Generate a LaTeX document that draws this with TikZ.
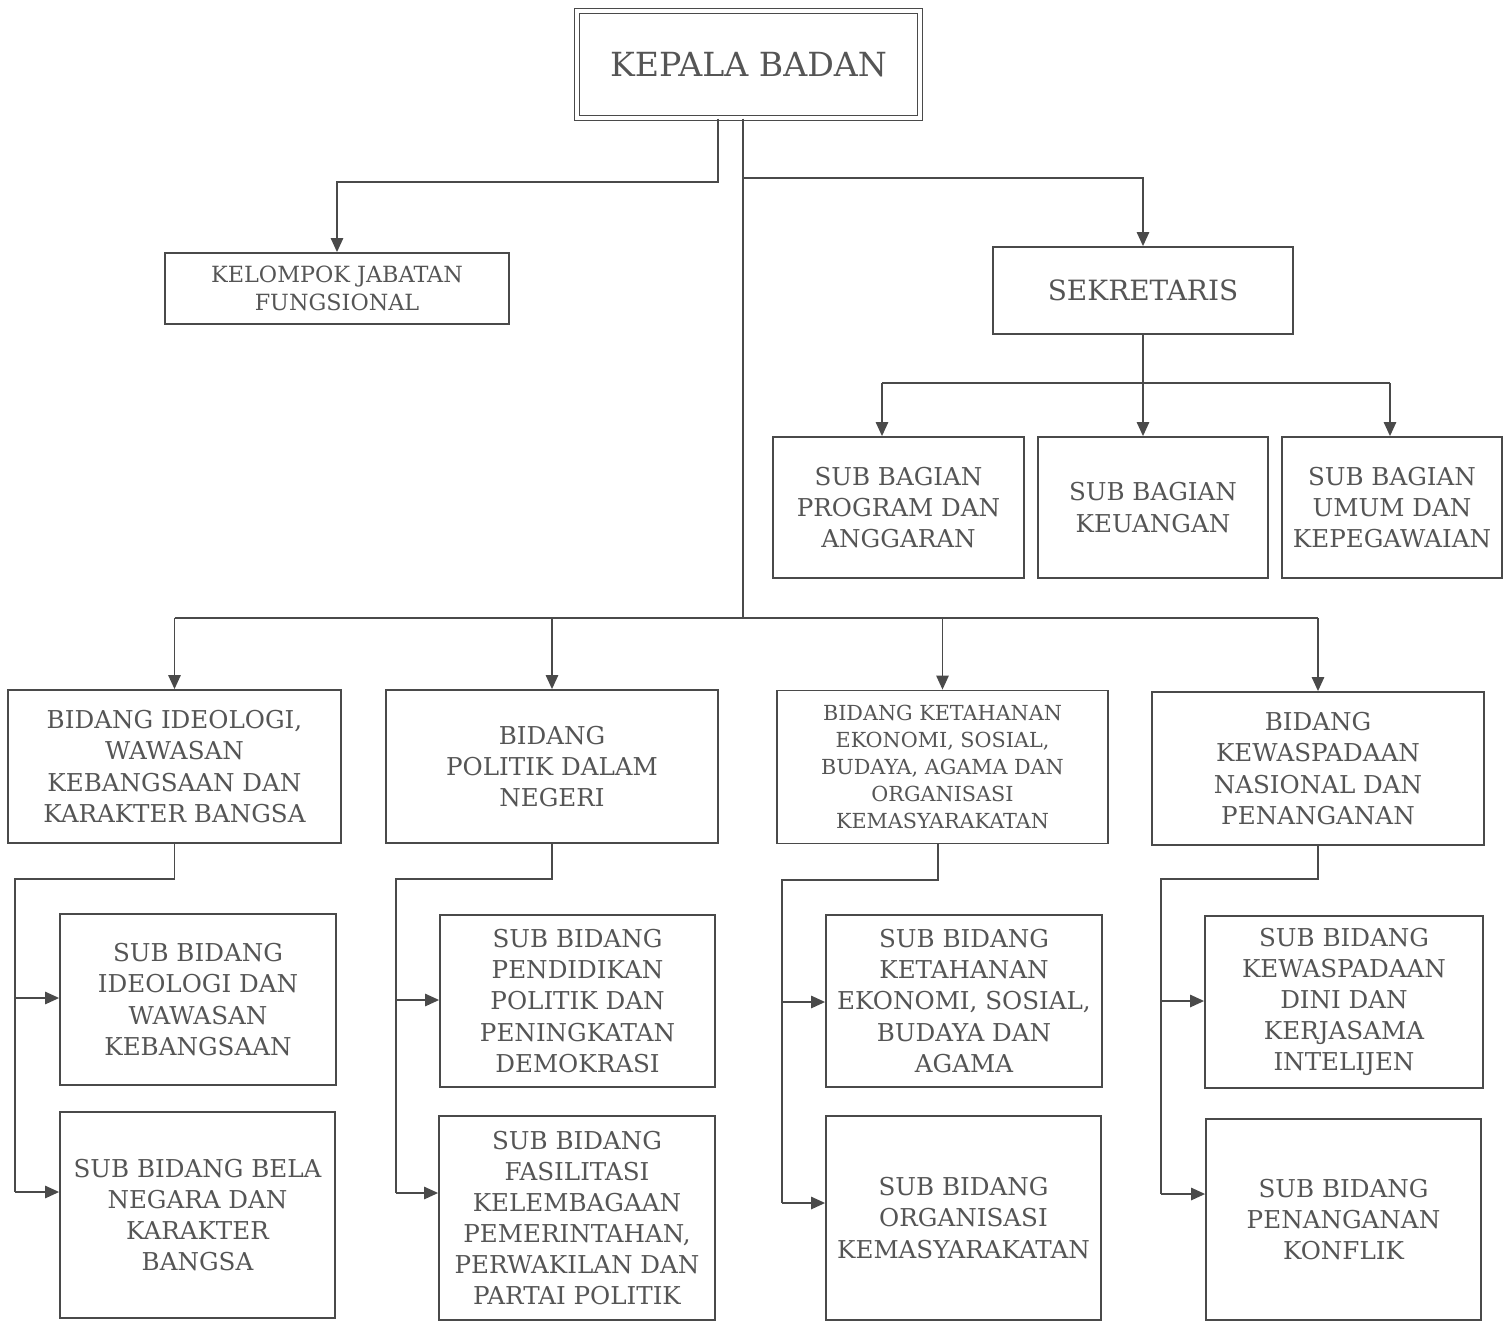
\documentclass[tikz,border=0pt]{standalone}
\usepackage{fontspec}
\setmainfont{DejaVu Serif}
\usetikzlibrary{arrows.meta}
\definecolor{ink}{HTML}{4A4A4A}
\definecolor{txt}{HTML}{555555}
\tikzset{
  box/.style={draw=ink, line width=1pt, inner sep=0pt, align=center, text=txt,
    font=\fontsize{14}{17.7}\selectfont},
  smallbox/.style={box, font=\fontsize{12.7}{15.9}\selectfont},
  tinybox/.style={box, font=\fontsize{11.8}{15.3}\selectfont},
  conn/.style={draw=ink, line width=1.1pt},
  arr/.style={conn, -{Triangle[length=8pt,width=7pt]}}
}
\begin{document}
\begin{tikzpicture}[x=0.02cm, y=-0.02cm]
\useasboundingbox (0,0) rectangle (1512,1322);
% top
\node[box, double=white, double distance=2pt, line width=0.8pt,
  minimum width=6.86cm, minimum height=2.14cm,
  font=\fontsize{18.9}{22}\selectfont] (KB) at (748.5,64.5) {KEPALA BADAN};
\node[smallbox, minimum width=6.88cm, minimum height=1.42cm] (KJF) at (337,288.5) {KELOMPOK JABATAN\\FUNGSIONAL};
\node[box, minimum width=6.0cm, minimum height=1.74cm, font=\fontsize{15.9}{19}\selectfont] (SEK) at (1143,290.5) {SEKRETARIS};
% sub bagian
\node[box, minimum width=5.02cm, minimum height=2.82cm] (SB1) at (898.5,507.5) {SUB BAGIAN\\PROGRAM DAN\\ANGGARAN};
\node[box, minimum width=4.6cm, minimum height=2.82cm] (SB2) at (1153,507.5) {SUB BAGIAN\\KEUANGAN};
\node[box, minimum width=4.4cm, minimum height=2.82cm] (SB3) at (1392,507.5) {SUB BAGIAN\\UMUM DAN\\KEPEGAWAIAN};
% bidang
\node[box, minimum width=6.66cm, minimum height=3.06cm] (B1) at (174.5,766.5) {BIDANG IDEOLOGI,\\WAWASAN\\KEBANGSAAN DAN\\KARAKTER BANGSA};
\node[box, minimum width=6.64cm, minimum height=3.06cm] (B2) at (552,766.5) {BIDANG\\POLITIK DALAM\\NEGERI};
\node[tinybox, minimum width=6.62cm, minimum height=3.06cm] (B3) at (942.5,767) {BIDANG KETAHANAN\\EKONOMI, SOSIAL,\\BUDAYA, AGAMA DAN\\ORGANISASI\\KEMASYARAKATAN};
\node[box, minimum width=6.64cm, minimum height=3.06cm] (B4) at (1318,768.5) {BIDANG\\KEWASPADAAN\\NASIONAL DAN\\PENANGANAN};
% sub bidang
\node[box, minimum width=5.52cm, minimum height=3.42cm] (S1A) at (198,999.5) {SUB BIDANG\\IDEOLOGI DAN\\WAWASAN\\KEBANGSAAN};
\node[box, minimum width=5.5cm, minimum height=4.12cm] (S1B) at (197.5,1215) {SUB BIDANG BELA\\NEGARA DAN\\KARAKTER\\BANGSA};
\node[box, minimum width=5.5cm, minimum height=3.44cm] (S2A) at (577.5,1001) {SUB BIDANG\\PENDIDIKAN\\POLITIK DAN\\PENINGKATAN\\DEMOKRASI};
\node[box, minimum width=5.52cm, minimum height=4.08cm] (S2B) at (577,1218) {SUB BIDANG\\FASILITASI\\KELEMBAGAAN\\PEMERINTAHAN,\\PERWAKILAN DAN\\PARTAI POLITIK};
\node[box, minimum width=5.52cm, minimum height=3.44cm] (S3A) at (964,1001) {SUB BIDANG\\KETAHANAN\\EKONOMI, SOSIAL,\\BUDAYA DAN\\AGAMA};
\node[box, minimum width=5.5cm, minimum height=4.08cm] (S3B) at (963.5,1218) {SUB BIDANG\\ORGANISASI\\KEMASYARAKATAN};
\node[box, minimum width=5.56cm, minimum height=3.44cm] (S4A) at (1344,1002) {SUB BIDANG\\KEWASPADAAN\\DINI DAN\\KERJASAMA\\INTELIJEN};
\node[box, minimum width=5.5cm, minimum height=4.02cm] (S4B) at (1343.5,1219.5) {SUB BIDANG\\PENANGANAN\\KONFLIK};
% top connectors
\coordinate (k1) at (718,0 |- KB.south);
\coordinate (k2) at (743,0 |- KB.south);
\draw[arr] (k1) -- (k1 |- 0,182) -| (KJF.north);
\draw[conn] (k2) -- (k2 |- 0,618);
\draw[arr] (k2 |- 0,178) -| (SEK.north);
% sekretaris
\draw[arr] (SEK.south) -- (SEK.south |- SB2.north);
\draw[conn] (882,383) -- (1390,383);
\draw[arr] (882,383) -- (882,0 |- SB1.north);
\draw[arr] (1390,383) -- (1390,0 |- SB3.north);
% bidang
\draw[conn] (B1.north |- 0,618) -- (B4.north |- 0,618);
\foreach \b in {B1,B2,B3,B4} \draw[arr] (\b.north |- 0,618) -- (\b.north);
% column 1
\draw[conn] (B1.south) |- (15,879) -- (15,1192);
\draw[arr] (15,998) -- (15,998 -| S1A.west);
\draw[arr] (15,1192) -- (15,1192 -| S1B.west);
% column 2
\draw[conn] (B2.south) |- (396,879) -- (396,1193);
\draw[arr] (396,1000) -- (396,1000 -| S2A.west);
\draw[arr] (396,1193) -- (396,1193 -| S2B.west);
% column 3
\draw[conn] (938,0 |- B3.south) |- (782,880) -- (782,1203);
\draw[arr] (782,1002) -- (782,1002 -| S3A.west);
\draw[arr] (782,1203) -- (782,1203 -| S3B.west);
% column 4
\draw[conn] (B4.south) |- (1161,879) -- (1161,1194);
\draw[arr] (1161,1001) -- (1161,1001 -| S4A.west);
\draw[arr] (1161,1194) -- (1161,1194 -| S4B.west);
\end{tikzpicture}
\end{document}
